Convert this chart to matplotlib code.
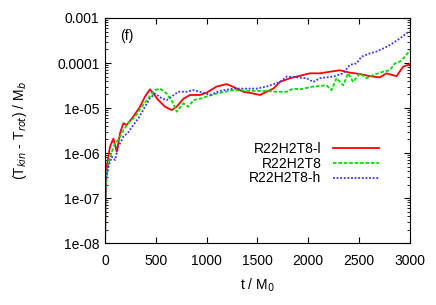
import numpy as np
import matplotlib.pyplot as plt
from matplotlib.ticker import FixedLocator, FixedFormatter, NullFormatter

plt.rcParams['font.family'] = ['Liberation Sans', 'DejaVu Sans']

# R22H2T8-l (red)
t_low = [0, 5, 16, 49, 82, 115, 148, 180, 213, 277, 344, 393, 442, 475, 525, 590, 656, 705,
         770, 836, 934, 1000, 1098, 1197, 1262, 1360, 1459, 1525, 1590, 1656, 1721, 1820,
         1918, 2016, 2115, 2213, 2311, 2410, 2508, 2606, 2705, 2770, 2869, 2934, 2983, 3000]
y_low = [1e-8, 1e-7, 5e-7, 1.4e-6, 2.1e-6, 1.07e-6, 2.8e-6, 4.6e-6, 4.2e-6, 6.4e-6, 1.07e-5,
         1.8e-5, 2.6e-5, 2.1e-5, 1.5e-5, 1.07e-5, 9e-6, 1.07e-5, 1.6e-5, 1.95e-5, 1.95e-5,
         2.2e-5, 3e-5, 3.4e-5, 2.96e-5, 2.3e-5, 2.1e-5, 1.95e-5, 2.3e-5, 2.7e-5, 3.8e-5,
         4.6e-5, 5.2e-5, 5.9e-5, 5.9e-5, 6.4e-5, 6.9e-5, 6.1e-5, 5.7e-5, 5.1e-5, 4.8e-5,
         5.9e-5, 5.1e-5, 8.3e-5, 9.1e-5, 9.5e-5]

# R22H2T8 (green)
t_mid = [0, 5, 16, 49, 98, 131, 180, 229, 295, 361, 426, 492, 541, 606, 672, 705, 770, 820,
         869, 934, 1000, 1098, 1262, 1426, 1590, 1688, 1787, 1852, 1918, 2049, 2180, 2229,
         2279, 2344, 2393, 2442, 2508, 2573, 2639, 2737, 2803, 2852, 2901, 2951, 3000]
y_mid = [1e-8, 1e-7, 3.6e-7, 8.3e-7, 1.65e-6, 1.95e-6, 3.2e-6, 4.6e-6, 6.4e-6, 1.07e-5,
         1.65e-5, 2.5e-5, 2.7e-5, 2.1e-5, 1.27e-5, 8.3e-6, 1.27e-5, 1.07e-5, 1.5e-5, 1.6e-5,
         1.8e-5, 2.1e-5, 2.5e-5, 2.4e-5, 2.4e-5, 2.3e-5, 2.3e-5, 2.7e-5, 2.6e-5, 3e-5,
         3.2e-5, 2.5e-5, 4.6e-5, 3.2e-5, 5.9e-5, 3.8e-5, 5.9e-5, 4.6e-5, 5.4e-5, 6.4e-5,
         6.9e-5, 9.8e-5, 1.07e-4, 1.38e-4, 1.9e-4]

# R22H2T8-h (blue)
t_high = [0, 5, 33, 66, 98, 131, 180, 229, 278, 328, 393, 442, 492, 557, 606, 656, 721, 803,
          869, 934, 1033, 1131, 1262, 1393, 1492, 1590, 1721, 1787, 1885, 1984, 2049, 2115,
          2246, 2344, 2410, 2475, 2524, 2606, 2672, 2737, 2803, 2901, 3000]
y_high = [1e-8, 2.5e-7, 5e-7, 8.3e-7, 7e-7, 1.4e-6, 2.3e-6, 2.9e-6, 4.2e-6, 5.9e-6, 1.07e-5,
          1.65e-5, 2.1e-5, 1.65e-5, 1.5e-5, 1.8e-5, 2.3e-5, 2.3e-5, 2.5e-5, 2.3e-5, 1.95e-5,
          2.4e-5, 2.7e-5, 2.7e-5, 2.7e-5, 3e-5, 3.8e-5, 5e-5, 4.8e-5, 4.6e-5, 3.8e-5, 4.6e-5,
          5e-5, 5.9e-5, 9.1e-5, 9.8e-5, 1.38e-4, 1.64e-4, 1.8e-4, 2.1e-4, 2.5e-4, 3.5e-4, 5.2e-4]

y_ticks = [1e-8, 1e-7, 1e-6, 1e-5, 1e-4, 1e-3]
y_ticklabels = ['1e-08', '1e-07', '1e-06', '1e-05', '0.0001', '0.001']
x_ticks = [0, 500, 1000, 1500, 2000, 2500, 3000]

fig = plt.figure(figsize=(4.36, 3.05), dpi=100)
ax = fig.add_axes([0.241, 0.203, 0.699, 0.738])

ax.plot(t_low, y_low, color='#ff0000', lw=1.3, label='R22H2T8-l')
ax.plot(t_mid, y_mid, color='#00dd00', lw=1.3, ls=(0, (2, 1)), label='R22H2T8')
ax.plot(t_high, y_high, color='#3333ff', lw=1.3, ls=(0, (1, 1)), label='R22H2T8-h')

ax.set_yscale('log')
ax.set_xlim(0, 3000)
ax.set_ylim(1e-8, 1e-3)
ax.yaxis.set_major_locator(FixedLocator(y_ticks))
ax.yaxis.set_major_formatter(FixedFormatter(y_ticklabels))
minors = [m * 10.0 ** e for e in range(-8, -3) for m in range(2, 10)]
ax.yaxis.set_minor_locator(FixedLocator(minors))
ax.yaxis.set_minor_formatter(NullFormatter())
ax.set_xticks(x_ticks)
ax.tick_params(which='both', direction='in', top=True, right=True, labelsize=10)
ax.tick_params(axis='x', pad=8)
ax.tick_params(axis='y', pad=4)
ax.tick_params(which='major', length=4)
ax.tick_params(which='minor', length=2)

ax.set_xlabel('t / M$_0$', fontsize=10, labelpad=6)
ax.set_ylabel('(T$_{kin}$ - T$_{rot}$) / M$_b$', fontsize=10, labelpad=20)
ax.text(0.05, 0.92, '(f)', transform=ax.transAxes, fontsize=10, va='center')

ax.legend(loc='upper right', bbox_to_anchor=(0.92, 0.48), frameon=False, markerfirst=False,
          fontsize=10, handlelength=3.3, labelspacing=0.05, borderpad=0, handletextpad=0.8)

fig.savefig('out.png', dpi=100)
